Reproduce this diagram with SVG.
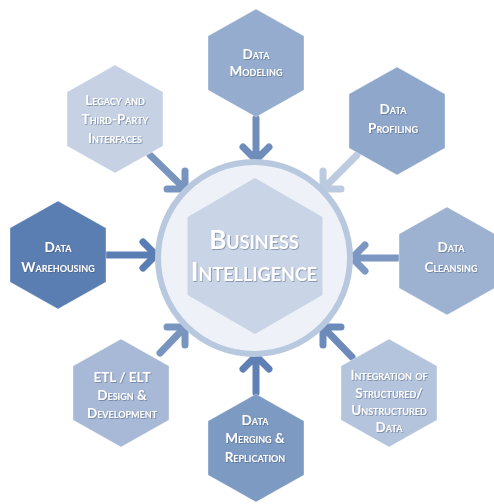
<svg xmlns="http://www.w3.org/2000/svg" width="494" height="504" viewBox="0 0 494 504">
<defs>
<style>
.hx{stroke:#ffffff;stroke-opacity:0.35;stroke-width:1}
.lb{font-family:Lato,"Open Sans","Liberation Sans",sans-serif;font-weight:bold;font-variant:small-caps;fill:#ffffff;text-anchor:middle;font-size:13.5px;filter:url(#sh)}
.big{font-size:26px}
.ar{fill:none;stroke-width:7;stroke-linecap:round;stroke-linejoin:round}
</style>
<filter id="sh" x="-20%" y="-40%" width="140%" height="180%">
<feDropShadow dx="0.8" dy="0.8" stdDeviation="0.6" flood-color="#3a4f70" flood-opacity="0.55"/>
</filter>
<path id="hex" d="M0,-54 L48,-27 L48,27 L0,54 L-48,27 L-48,-27 Z"/>
</defs>
<rect width="494" height="504" fill="#ffffff"/>
<g id="connectors">
<path class="ar" stroke="#6f8dbb" d="M256,118 L256,159 M243,147 L256,160 L269,147"/>
<path class="ar" stroke="#bccbe0" d="M357,155 L323,189 M341,189 L323,189 L323,171"/>
<path class="ar" stroke="#7895c0" d="M150,155 L185,189 M167,189 L185,189 L185,171"/>
<path class="ar" stroke="#5a7db3" d="M107,255 L156,255 M143,242 L156,255 L143,268"/>
<path class="ar" stroke="#7b97c2" d="M398,258 L352,258 M365,245 L352,258 L365,271"/>
<path class="ar" stroke="#7895c0" d="M160,353 L185,327 M167,327 L185,327 L185,345"/>
<path class="ar" stroke="#6d8bba" d="M352,357 L323,327 M341,327 L323,327 L323,345"/>
<path class="ar" stroke="#5f80b4" d="M256,393 L256,357 M243,369 L256,356 L269,369"/>
</g>
<g id="center">
<circle cx="254" cy="258" r="96" fill="#eef2f8" stroke="#b8c8de" stroke-width="6"/>
<polygon points="255,178 322.5,217 322.5,295 255,334 187.5,295 187.5,217" fill="#c9d5e7"/>
<text class="lb big" x="254" y="249">Business</text>
<text class="lb big" x="254" y="281">Intelligence</text>
</g>
<g id="modeling">
<use href="#hex" x="256" y="63" fill="#95acce" class="hx"/>
<text class="lb" x="256" y="59">Data</text>
<text class="lb" x="256" y="76">Modeling</text>
</g>
<g id="profiling">
<use href="#hex" x="397" y="121" fill="#8ea7ca" class="hx"/>
<text class="lb" x="393" y="114">Data</text>
<text class="lb" x="393" y="133">Profiling</text>
</g>
<g id="legacy">
<use href="#hex" x="115" y="119" fill="#c6d2e4" class="hx"/>
<text class="lb" x="115" y="105">Legacy and</text>
<text class="lb" x="115" y="124">Third-Party</text>
<text class="lb" x="115" y="143">Interfaces</text>
</g>
<g id="warehousing">
<use href="#hex" x="58" y="255" fill="#5a7db2" class="hx"/>
<text class="lb" x="58" y="252">Data</text>
<text class="lb" x="58" y="272">Warehousing</text>
</g>
<g id="cleansing">
<use href="#hex" x="447" y="261" fill="#9db2d1" class="hx"/>
<text class="lb" x="451" y="252">Data</text>
<text class="lb" x="451" y="272">Cleansing</text>
</g>
<g id="etl">
<use href="#hex" x="121" y="393" fill="#a7b9d6" class="hx"/>
<text class="lb" x="122" y="382">ETL / ELT</text>
<text class="lb" x="122" y="400">Design &amp;</text>
<text class="lb" x="122" y="418">Development</text>
</g>
<g id="integration">
<use href="#hex" x="389" y="393" fill="#b4c4dd" class="hx"/>
<text class="lb" x="389" y="380">Integration of</text>
<text class="lb" x="389" y="398">Structured/</text>
<text class="lb" x="389" y="415">Unstructured</text>
<text class="lb" x="389" y="432">Data</text>
</g>
<g id="merging">
<use href="#hex" x="256" y="448" fill="#7d9ac3" class="hx"/>
<text class="lb" x="255" y="425">Data</text>
<text class="lb" x="255" y="443">Merging &amp;</text>
<text class="lb" x="255" y="462">Replication</text>
</g>
</svg>
